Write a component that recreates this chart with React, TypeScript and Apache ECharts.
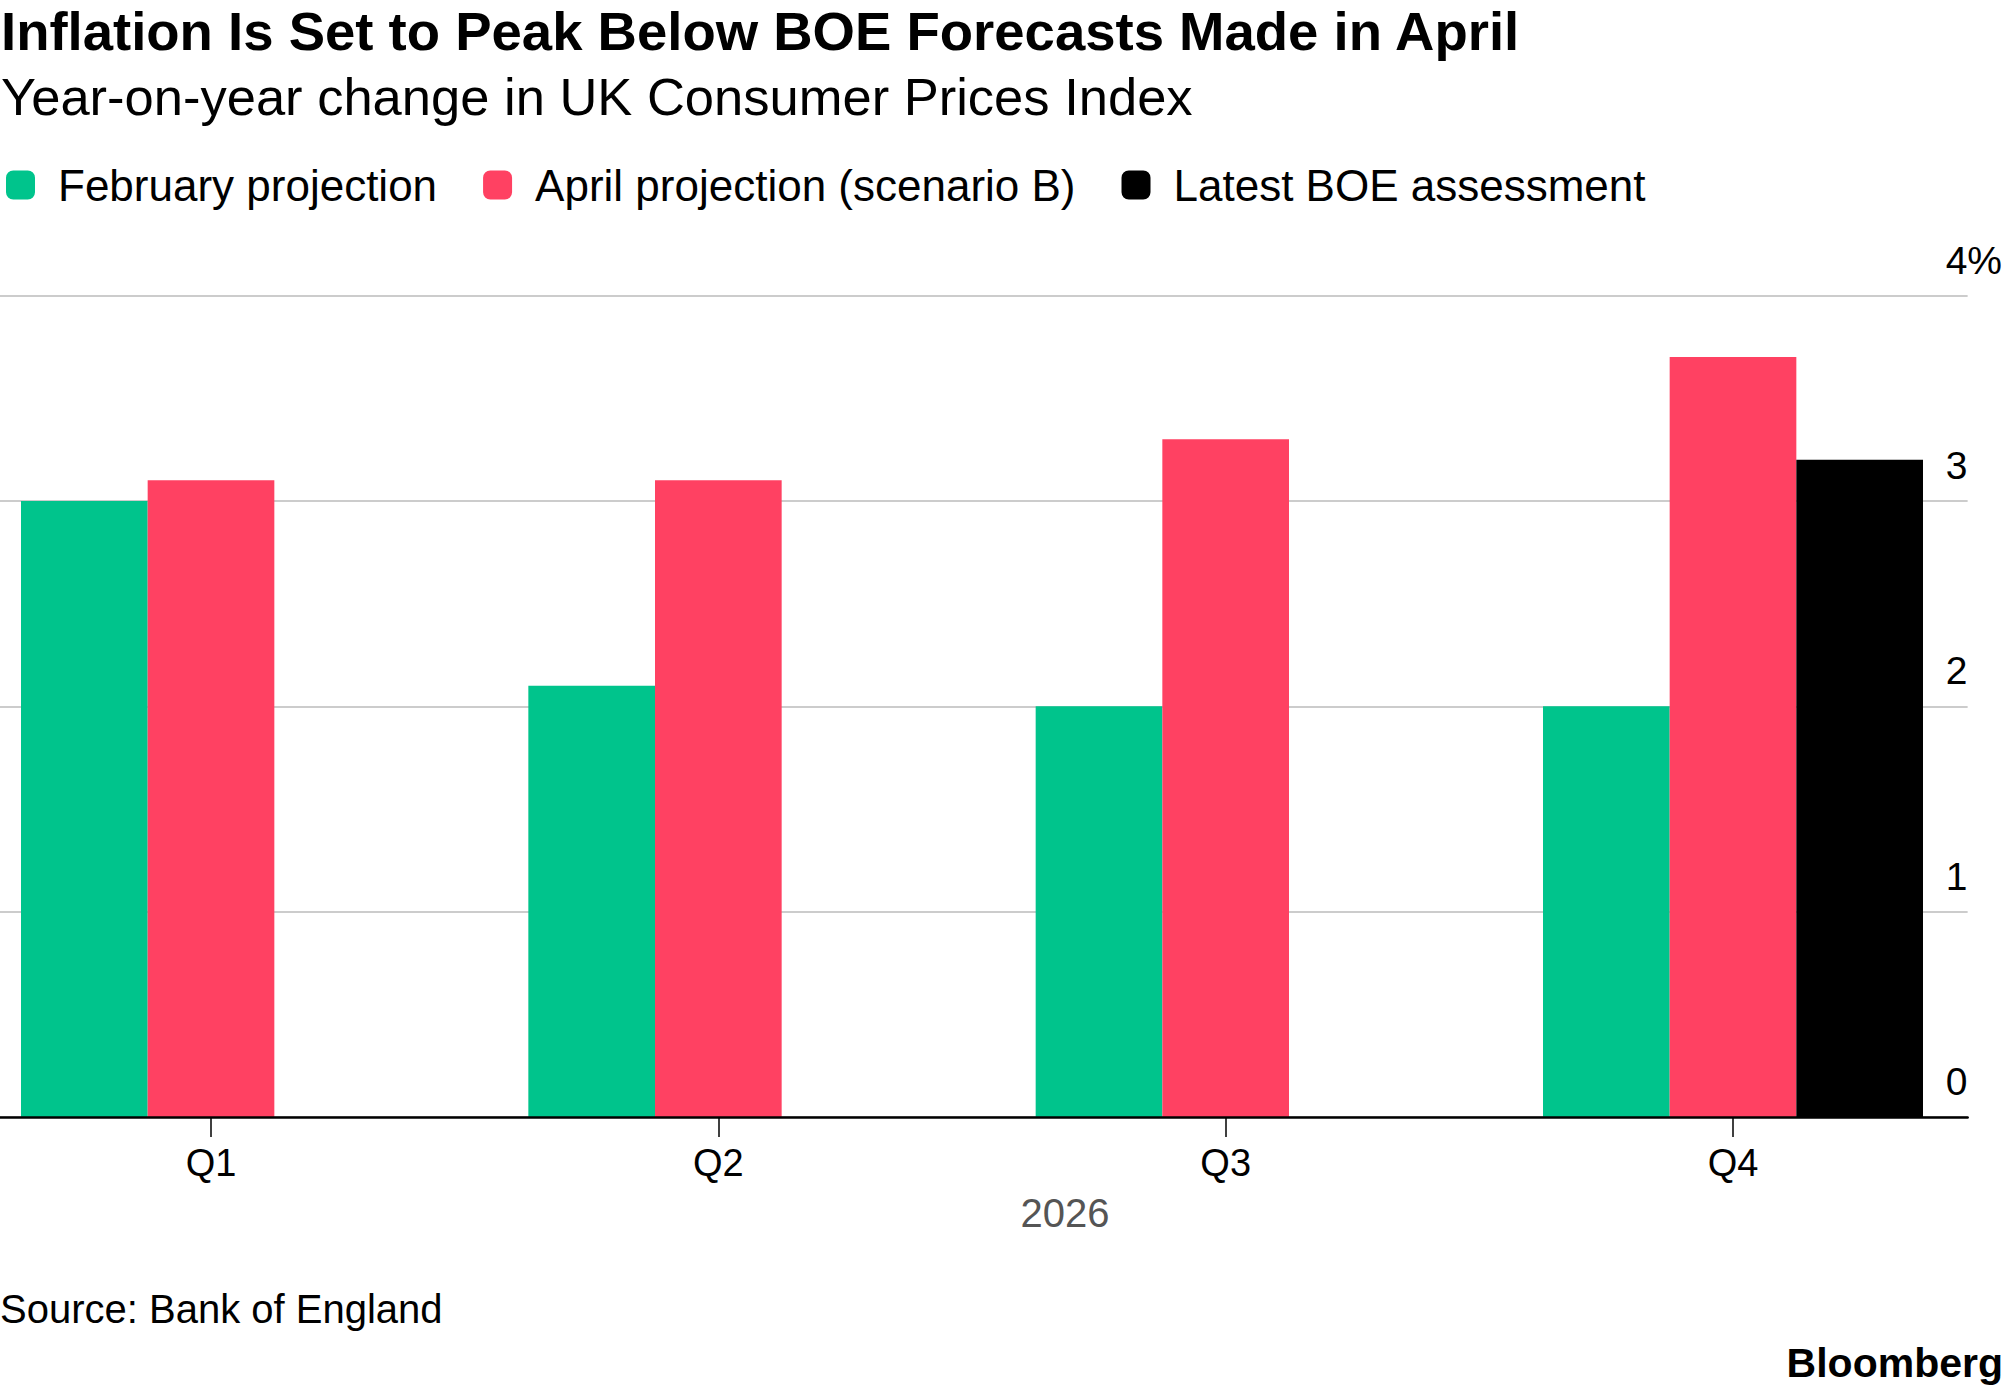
import React, { useEffect, useRef } from "react";
import * as echarts from "echarts";

const categories = ["Q1", "Q2", "Q3", "Q4"];
const seriesNames = ["February projection", "April projection (scenario B)", "Latest BOE assessment"];
const febValues = [3.0, 2.1, 2.0, 2.0];
const aprValues = [3.1, 3.1, 3.3, 3.7];
const latestValues: (number | null)[] = [null, null, null, 3.2];
const yTicks = [0, 1, 2, 3, 4];
const colors = ["#00C48C", "#FF4162", "#000000"];

const FONT = "'Liberation Sans', Arial, Helvetica, sans-serif";

export default function App() {
  const ref = useRef<HTMLDivElement>(null);
  useEffect(() => {
    document.body.style.margin = "0";
    const chart = echarts.init(ref.current!, undefined, { renderer: "svg" });
    const gridTop = 295.5;
    const gridBottomY = 1117;
    const gridH = gridBottomY - gridTop;
    const firstCenter = 211;
    const lastCenter = 1733;
    chart.setOption({
      animation: false,
      backgroundColor: "#ffffff",
      textStyle: { fontFamily: FONT },
      legend: {
        data: seriesNames,
        left: 6,
        top: 163,
        padding: 0,
        icon: "roundRect",
        itemWidth: 29,
        itemHeight: 29,
        itemGap: 46,
        selectedMode: false,
        textStyle: { fontSize: 44, color: "#000", fontFamily: FONT, padding: [0, 0, 0, 18] },
      },
      grid: [
        { left: firstCenter, width: lastCenter - firstCenter, top: gridTop, height: gridH },
        { left: 0, width: 1970, top: gridTop, height: gridH },
      ],
      xAxis: [
        {
          type: "category",
          gridIndex: 0,
          data: categories,
          boundaryGap: false,
          axisLine: { show: false },
          axisTick: { show: true, length: 20, lineStyle: { color: "#000", width: 1.5 } },
          axisLabel: { fontSize: 38, color: "#000", margin: 27, fontFamily: FONT },
          splitLine: { show: false },
        },
        {
          type: "value",
          gridIndex: 1,
          min: 0,
          max: 1,
          z: 10,
          axisLine: { show: true, onZero: false, lineStyle: { color: "#000", width: 2.5 } },
          axisTick: { show: false },
          axisLabel: { show: false },
          splitLine: { show: false },
        },
      ],
      yAxis: [
        { type: "value", gridIndex: 0, min: 0, max: 4, show: false },
        {
          type: "value",
          gridIndex: 1,
          min: yTicks[0],
          max: yTicks[yTicks.length - 1],
          interval: 1,
          position: "right",
          axisLine: { show: false },
          axisTick: { show: false },
          splitLine: { show: true, lineStyle: { color: "#cccccc", width: 2 } },
          axisLabel: {
            margin: -22,
            align: "left",
            verticalAlign: "bottom",
            padding: [0, 0, 16, 0],
            fontSize: 39,
            color: "#000",
            fontFamily: FONT,
            formatter: (v: number) => (v === yTicks[yTicks.length - 1] ? v + "%" : String(v)),
          },
        },
      ],
      series: [
        { name: seriesNames[0], type: "bar", xAxisIndex: 0, yAxisIndex: 0, data: febValues, itemStyle: { color: colors[0] }, barGap: "0%", barCategoryGap: "25.1%" },
        { name: seriesNames[1], type: "bar", xAxisIndex: 0, yAxisIndex: 0, data: aprValues, itemStyle: { color: colors[1] }, barGap: "0%", barCategoryGap: "25.1%" },
        { name: seriesNames[2], type: "bar", xAxisIndex: 0, yAxisIndex: 0, data: latestValues, itemStyle: { color: colors[2] }, barGap: "0%", barCategoryGap: "25.1%" },
      ],
      graphic: [
        { type: "text", x: 1, y: 31, style: { text: "Inflation Is Set to Peak Below BOE Forecasts Made in April", font: `bold 54.5px ${FONT}`, fill: "#000", verticalAlign: "middle" } },
        { type: "text", x: 1, y: 96, style: { text: "Year-on-year change in UK Consumer Prices Index", font: `52.5px ${FONT}`, fill: "#000", verticalAlign: "middle" } },
        { type: "text", x: 1065, y: 1213, style: { text: "2026", font: `40px ${FONT}`, fill: "#555555", align: "center", verticalAlign: "middle" } },
        { type: "text", x: 0, y: 1309, style: { text: "Source: Bank of England", font: `40px ${FONT}`, fill: "#000", verticalAlign: "middle" } },
        { type: "text", x: 2003, y: 1363, style: { text: "Bloomberg", font: `bold 41px ${FONT}`, fill: "#000", align: "right", verticalAlign: "middle" } },
      ],
    });
    return () => chart.dispose();
  }, []);
  return <div ref={ref} style={{ position: "absolute", left: 0, top: 0, width: 2005, height: 1392 }} />;
}
